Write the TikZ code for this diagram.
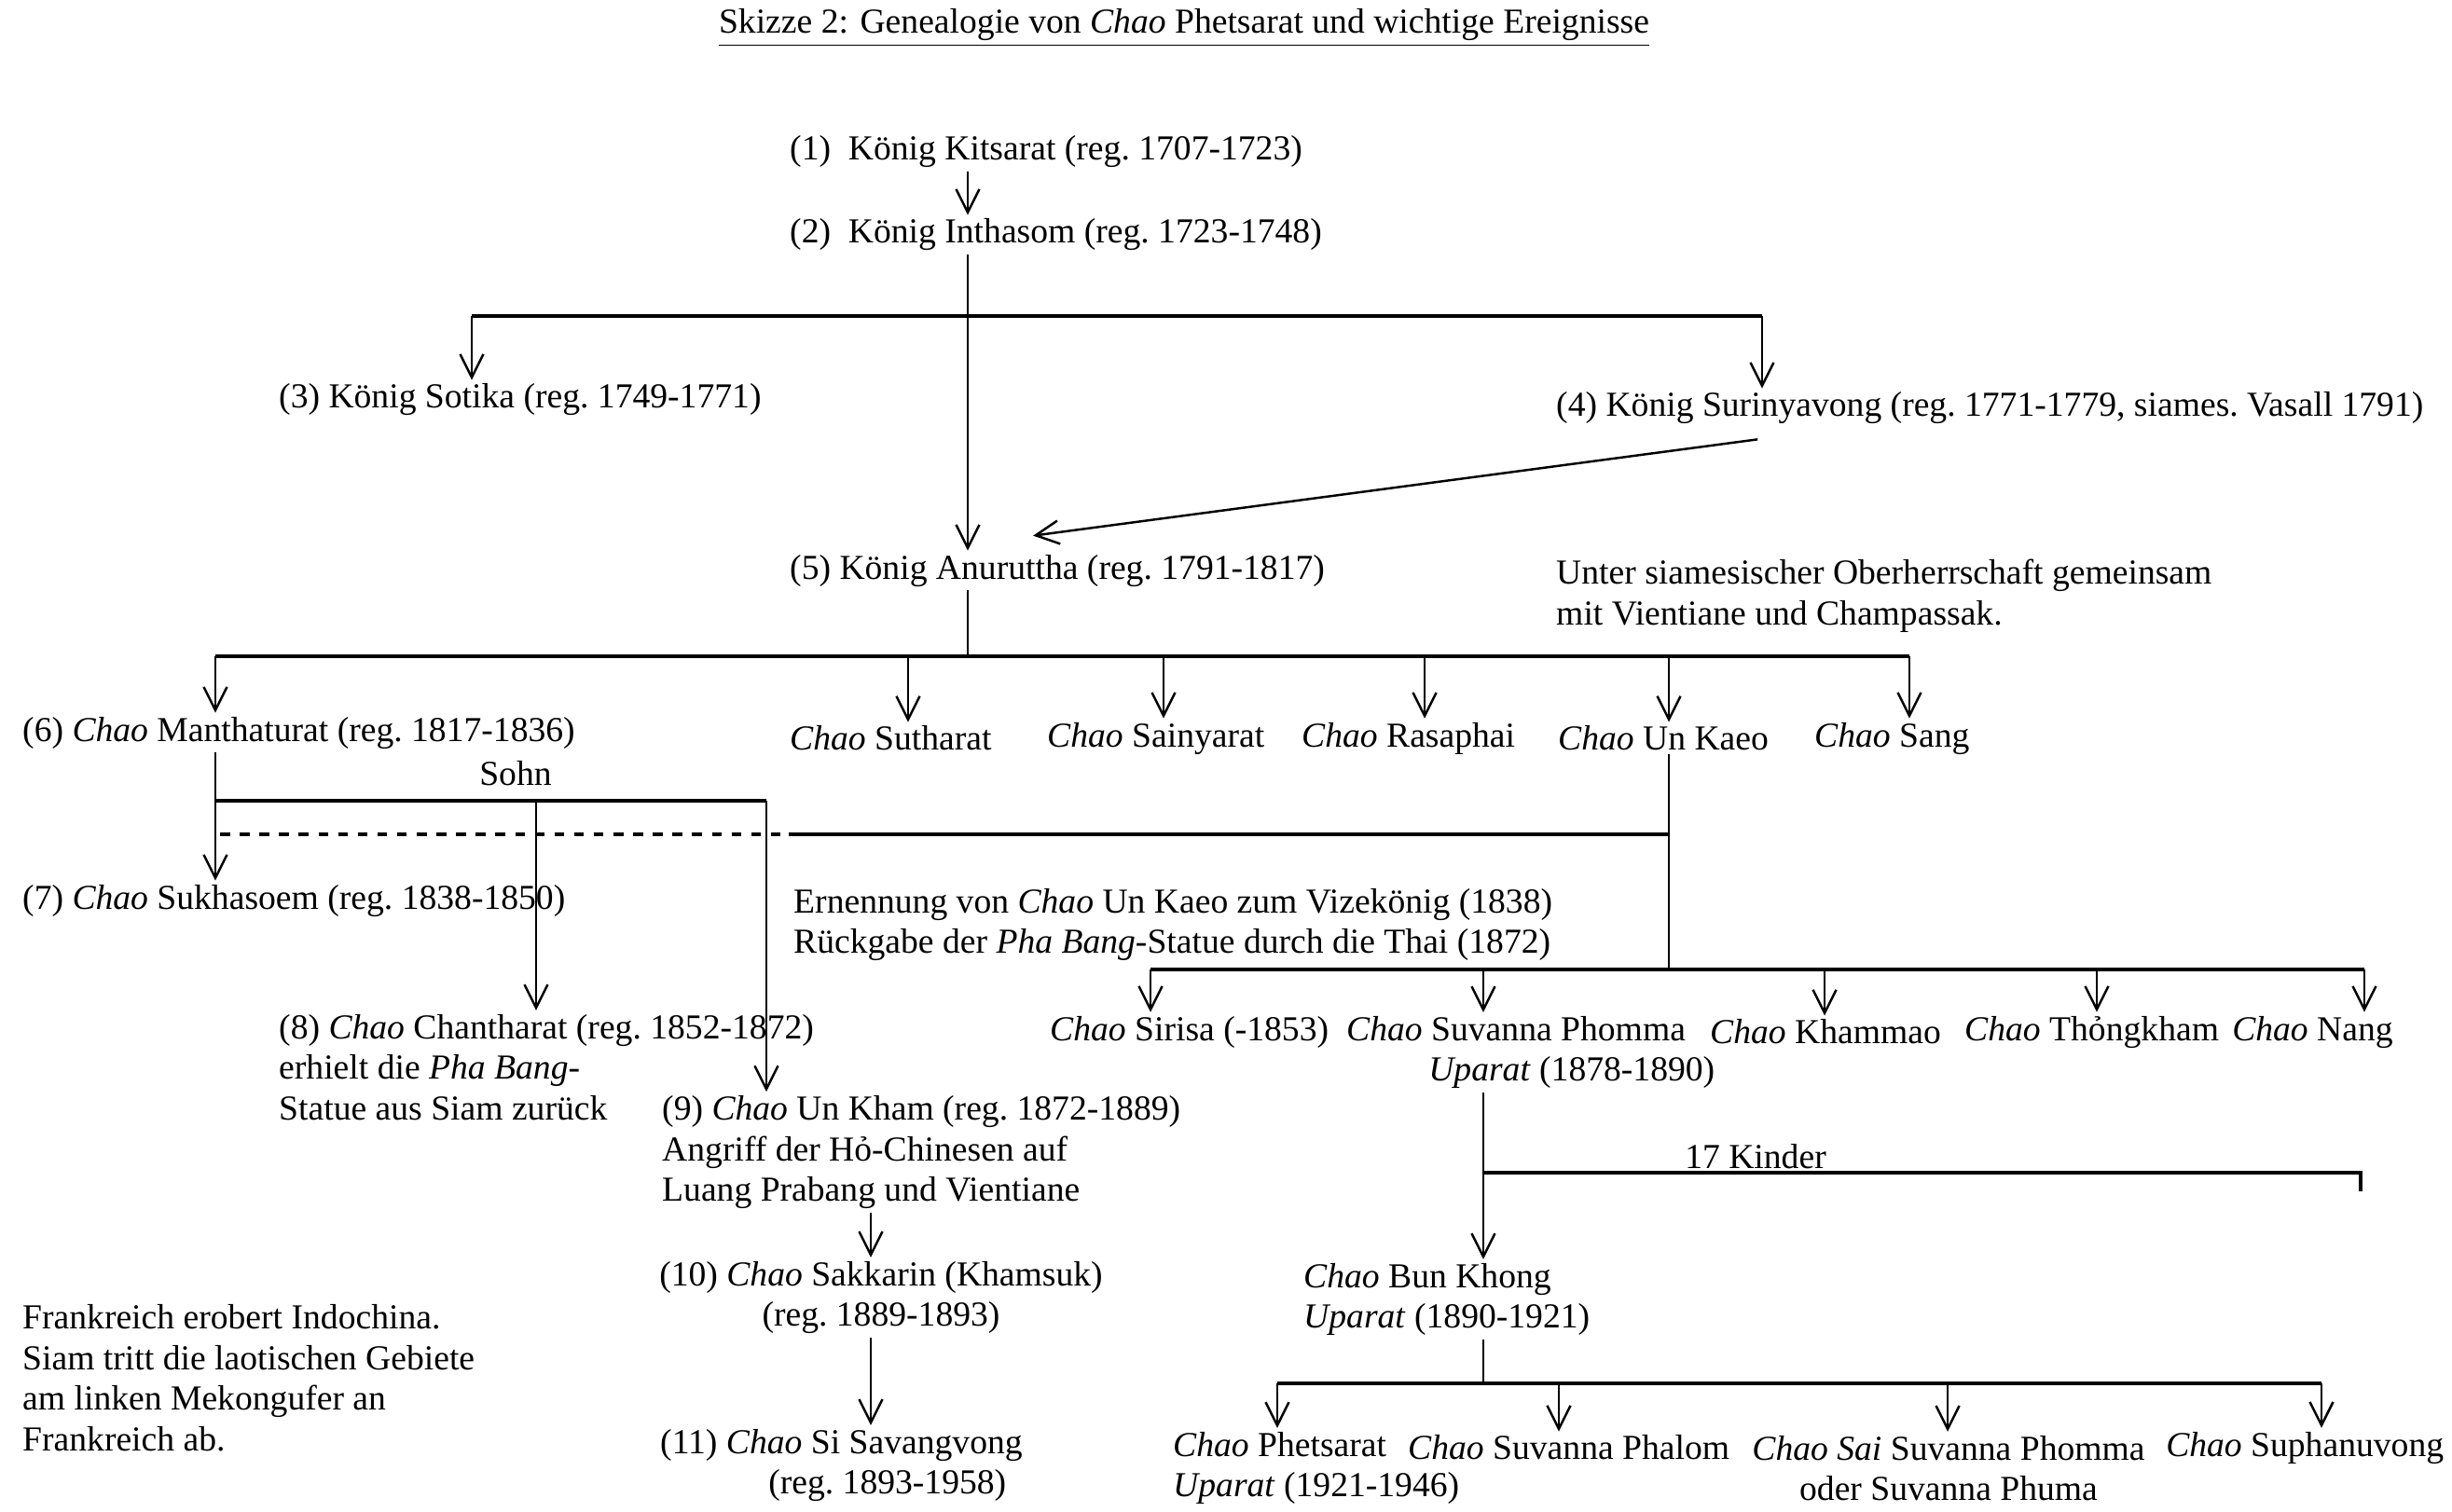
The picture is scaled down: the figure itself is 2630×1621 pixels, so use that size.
\documentclass[tikz,border=0pt]{standalone}
\usepackage{fontspec}
\setmainfont{Liberation Serif}
\usetikzlibrary{arrows.meta}

\begin{document}
\begin{tikzpicture}[x=0.01cm, y=-0.01cm,
  every node/.style={inner sep=1pt, font=\fontsize{10.7}{12.4}\selectfont},
  arr/.style={-{Straight Barb[length=2.5mm,width=2.5mm]}, line width=0.7pt},
  bar/.style={line width=1.1pt}]
\useasboundingbox (0,0) rectangle (2630,1621);

\node (title) at (1270,30) {\underline{Skizze 2: Genealogie von \textit{Chao} Phetsarat und wichtige Ereignisse}};

\node[anchor=west] (k1) at (843,163) {(1)~~König Kitsarat (reg.\ 1707-1723)};
\node[anchor=west] (k2) at (843,252) {(2)~~König Inthasom (reg.\ 1723-1748)};
\node[anchor=west] (k3) at (295,429) {(3) König Sotika (reg.\ 1749-1771)};
\node[anchor=west] (k4) at (1665,438) {(4) König Surinyavong (reg.\ 1771-1779, siames.\ Vasall 1791)};
\node[anchor=west] (k5) at (843,612) {(5) König Anuruttha (reg.\ 1791-1817)};
\node[anchor=west, align=left] (siam) at (1665,639) {Unter siamesischer Oberherrschaft gemeinsam\\mit Vientiane und Champassak.};

% sons of Anuruttha
\node[anchor=west] (c6) at (20,786) {(6) \textit{Chao} Manthaturat (reg.\ 1817-1836)};
\node[anchor=west] (sutharat) at (843,792) {\textit{Chao} Sutharat};
\node[anchor=west] (sainyarat) at (1119,792) {\textit{Chao} Sainyarat};
\node[anchor=west] (rasaphai) at (1392,792) {\textit{Chao} Rasaphai};
\node[anchor=west] (unkaeo) at (1667,792) {\textit{Chao} Un Kaeo};
\node[anchor=west] (sang) at (1942,792) {\textit{Chao} Sang};

\node (sohn) at (553,830) {Sohn};
\node[anchor=west] (c7) at (20,966) {(7) \textit{Chao} Sukhasoem (reg.\ 1838-1850)};
\node[anchor=west, align=left] (ernennung) at (847,992) {Ernennung von \textit{Chao} Un Kaeo zum Vizekönig (1838)\\Rückgabe der \textit{Pha Bang}-Statue durch die Thai (1872)};
\node[anchor=west, align=left] (c8) at (295,1145) {(8) \textit{Chao} Chantharat (reg.\ 1852-1872)\\erhielt die \textit{Pha Bang}-\\Statue aus Siam zurück};
\node[anchor=west, align=left] (c9) at (706,1236) {(9) \textit{Chao} Un Kham (reg.\ 1872-1889)\\Angriff der Hỏ-Chinesen auf\\Luang Prabang und Vientiane};
\node[align=center] (c10) at (945,1392) {(10) \textit{Chao} Sakkarin (Khamsuk)\\(reg.\ 1889-1893)};
\node[anchor=west, align=left] (c11) at (704,1572) {(11) \textit{Chao} Si Savangvong\\\hspace*{1.16cm}(reg.\ 1893-1958)};
\node[anchor=west, align=left] (frankreich) at (20,1478) {Frankreich erobert Indochina.\\Siam tritt die laotischen Gebiete\\am linken Mekongufer an\\Frankreich ab.};

% sons of Un Kaeo
\node[anchor=west] (sirisa) at (1122,1107) {\textit{Chao} Sirisa (-1853)};
\node[anchor=west, align=left] (suvanna) at (1440,1129) {\textit{Chao} Suvanna Phomma\\\hspace*{0.88cm}\textit{Uparat} (1878-1890)};
\node[anchor=west] (khammao) at (1830,1107) {\textit{Chao} Khammao};
\node[anchor=west] (thongkham) at (2103,1107) {\textit{Chao} Thỏngkham};
\node[anchor=west] (nang) at (2390,1107) {\textit{Chao} Nang};

\node (kinder) at (1883,1241) {17 Kinder};
\node[anchor=west, align=left] (bunkhong) at (1394,1394) {\textit{Chao} Bun Khong\\\textit{Uparat} (1890-1921)};

% sons of Bun Khong
\node[anchor=west, align=left] (phetsarat) at (1254,1575) {\textit{Chao} Phetsarat\\\textit{Uparat} (1921-1946)};
\node[anchor=west] (phalom) at (1506,1553) {\textit{Chao} Suvanna Phalom};
\node[align=center] (sai) at (2090,1575) {\textit{Chao} \textit{Sai} Suvanna Phomma\\oder Suvanna Phuma};
\node[anchor=west] (suphanuvong) at (2319,1553) {\textit{Chao} Suphanuvong};

% connectors
\coordinate (s12) at (1038,200);
\draw[arr] (s12 |- k1.south) -- (s12 |- k2.north);
\draw[arr] (s12 |- k2.south) -- (s12 |- k5.north);
\coordinate (b3) at (506,339);
\coordinate (b4) at (1890,339);
\draw[bar] (b3) -- (b4);
\draw[arr] (b3) -- (b3 |- k3.north);
\draw[arr] (b4) -- (b4 |- k4.north);
\draw[arr] ([xshift=-2.49cm,yshift=-0.12cm]k4.south) -- ([xshift=-0.26cm,yshift=0.16cm]k5.north);

\coordinate (j5) at (1038,704);
\draw[line width=0.7pt] (j5 |- k5.south) -- (j5);
\draw[bar] (231,704) -- (2048,704);
\foreach \n/\x in {c6/231, sutharat/974, sainyarat/1248, rasaphai/1528, unkaeo/1790, sang/2048} {
  \coordinate (t) at (\x,704);
  \draw[arr] (t) -- (t |- \n.north);
}

\coordinate (s6) at (231,859);
\draw[arr] (s6 |- c6.south) -- (s6 |- c7.north);
\draw[bar] (s6) -- (822,859);
\coordinate (s8) at (575,859);
\coordinate (s9) at (822,859);
\draw[arr] (s8) -- (s8 |- c8.north);
\draw[arr] (s9) -- (s9 |- c9.north);
\coordinate (d1) at (236,895);
\coordinate (d2) at (846,895);
\coordinate (sU) at (1790,1040);
\draw[dashed, line width=1pt] (d1) -- (d2);
\draw[bar] (d2) -- (d2 -| sU);
\draw[line width=0.7pt] (sU |- unkaeo.south) -- (sU);
\coordinate (s10) at (934,1300);
\draw[arr] (s10 |- c9.south) -- (s10 |- c10.north);
\draw[arr] (s10 |- c10.south) -- (s10 |- c11.north);

\draw[bar] (1234,1040) -- (2536,1040);
\foreach \n/\x in {sirisa/1234, suvanna/1591, khammao/1957, thongkham/2249, nang/2536} {
  \coordinate (t) at (\x,1040);
  \draw[arr] (t) -- (t |- \n.north);
}

\coordinate (s17) at (1591,1258);
\draw[arr] (s17 |- suvanna.south) -- (s17 |- bunkhong.north);
\draw[bar] (s17) -- (2532,1258) -- (2532,1278);
\coordinate (sB) at (1591,1484);
\draw[line width=0.7pt] (sB |- bunkhong.south) -- (sB);
\draw[bar] (1370,1484) -- (2490,1484);
\foreach \n/\x in {phetsarat/1370, phalom/1672, sai/2089, suphanuvong/2490} {
  \coordinate (t) at (\x,1484);
  \draw[arr] (t) -- (t |- \n.north);
}
\end{tikzpicture}
\end{document}
